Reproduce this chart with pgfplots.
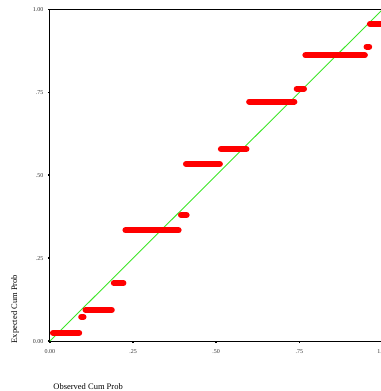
\documentclass[border=0pt]{standalone}
\usepackage{pgfplots}
\pgfplotsset{compat=1.18}
\usepackage{fontspec}
\setmainfont{Liberation Serif}
\definecolor{ppred}{RGB}{255,0,0}
\definecolor{ppgreen}{RGB}{60,230,40}
\begin{document}
\begin{tikzpicture}[x=1pt,y=1pt]
\begin{axis}[
  name=ax,
  scale only axis,
  width=333pt, height=332pt,
  xmin=0, xmax=1, ymin=0, ymax=1,
  axis line style={line width=1pt},
  xtick={0,0.25,0.5,0.75,1}, ytick={0,0.25,0.5,0.75,1},
  xticklabels={0.00,.25,.50,.75,1.00},
  yticklabels={0.00,.25,.50,.75,1.00},
  tick style={line width=1.6pt,black},
  major tick length=2pt,
  tick align=outside,
  xtick pos=bottom, ytick pos=left,
  ticklabel style={font=\fontsize{6}{7}\selectfont, text=black!80},
  xticklabel style={yshift=-3pt},
  yticklabel style={xshift=-1pt},
  /pgf/number format/assume math mode=true,
  clip=false,
  seg/.style={color=ppred, line width=6pt, line cap=round, mark=none},
]
\addplot[ppgreen, line width=0.9pt, mark=none] coordinates {(0,0) (1,1)};
\addplot[seg] coordinates {(0.009,0.025) (0.088,0.025)};
\addplot[seg] coordinates {(0.094,0.073) (0.101,0.073)};
\addplot[seg] coordinates {(0.107,0.094) (0.186,0.094)};
\addplot[seg] coordinates {(0.192,0.175) (0.221,0.175)};
\addplot[seg] coordinates {(0.227,0.334) (0.387,0.334)};
\addplot[seg] coordinates {(0.394,0.380) (0.411,0.380)};
\addplot[seg] coordinates {(0.409,0.534) (0.511,0.534)};
\addplot[seg] coordinates {(0.514,0.579) (0.591,0.579)};
\addplot[seg] coordinates {(0.599,0.722) (0.735,0.722)};
\addplot[seg] coordinates {(0.742,0.761) (0.764,0.761)};
\addplot[seg] coordinates {(0.768,0.862) (0.947,0.862)};
\addplot[seg] coordinates {(0.952,0.888) (0.960,0.888)};
\addplot[seg] coordinates {(0.962,0.956) (1.02,0.956)};
\end{axis}
\node[rotate=90, anchor=center, font=\fontsize{8.5}{9}\selectfont] at ([xshift=-35pt,yshift=32pt]ax.south west) {Expected Cum Prob};
\node[anchor=base west, font=\fontsize{8.5}{9}\selectfont] at ([xshift=0pt,yshift=-48pt]ax.south west) {Observed Cum Prob};
\pgfresetboundingbox
\useasboundingbox ([xshift=-50pt,yshift=-50pt]ax.south west) rectangle ([xshift=-2pt,yshift=9.5pt]ax.north east);
\end{tikzpicture}
\end{document}
